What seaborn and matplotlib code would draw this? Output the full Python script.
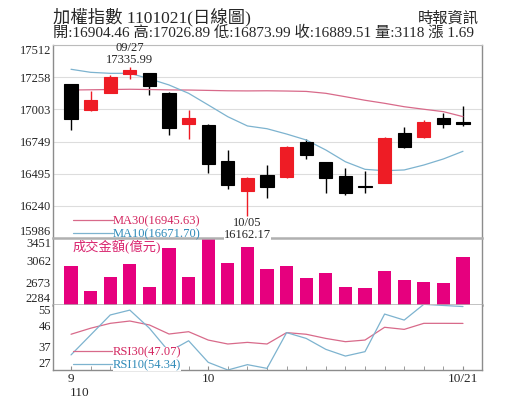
import numpy as np
import matplotlib
matplotlib.use("Agg")
import matplotlib.pyplot as plt
import matplotlib.transforms as mtransforms
import seaborn as sns

# daily candles, 2021/09/22 - 2021/10/21
dates = ['09/22', '09/23', '09/24', '09/27', '09/28', '09/29', '09/30', '10/01',
         '10/04', '10/05', '10/06', '10/07', '10/08', '10/12', '10/13', '10/14',
         '10/15', '10/18', '10/19', '10/20', '10/21']
opens = [17201, 16998, 17135, 17285, 17288, 17130, 16890, 16879, 16597, 16360, 16484,
         16466, 16743, 16585, 16479, 16395, 16423, 16814, 16787, 16932, 16904.46]
highs = [17205, 17148, 17275, 17335.99, 17290, 17140, 16998, 16885, 16682, 16470, 16566,
         16716, 16766, 16590, 16542, 16516, 16785, 16861, 16919, 16972, 17026.89]
lows = [16840, 16990, 17130, 17243, 17117, 16800, 16766, 16497, 16376, 16162.17, 16300,
        16460, 16608, 16344, 16328, 16344, 16420, 16695, 16774, 16858, 16873.99]
closes = [16927, 17077, 17261, 17314, 17185, 16856, 16932, 16571, 16405, 16458, 16389,
          16708, 16640, 16463, 16344, 16387, 16779, 16703, 16901, 16890, 16889.51]
ma30 = [17156, 17158, 17160, 17162, 17160, 17157, 17156, 17153, 17150, 17149, 17150,
        17148, 17145, 17130, 17103, 17075, 17051, 17024, 17004, 16985, 16945.63]
ma10 = [17320, 17296, 17288, 17288, 17245, 17196, 17130, 17038, 16945, 16872, 16850,
        16808, 16761, 16682, 16589, 16529, 16518, 16524, 16563, 16611, 16671.70]
volumes = [2969, 2528, 2777, 2993, 2592, 3272, 2777, 3434, 3010, 3300, 2906,
           2969, 2761, 2836, 2603, 2586, 2871, 2714, 2690, 2672, 3118]
rsi30 = [42.4, 45.0, 47.1, 48.1, 46.4, 42.5, 43.5, 39.9, 38.2, 38.9, 38.2,
         43.1, 42.4, 40.6, 39.2, 39.9, 45.4, 44.5, 47.1, 47.1, 47.07]
rsi10 = [33.5, 42.1, 50.7, 52.8, 45.0, 34.9, 39.6, 30.3, 27.0, 29.3, 27.7,
         43.1, 40.6, 35.9, 33.0, 34.9, 51.1, 48.5, 55.3, 54.8, 54.34]

price_ticks = [15986, 16240, 16495, 16749, 17003, 17258, 17512]
vol_ticks = [2284, 2673, 3062, 3451]
rsi_ticks = [27, 37, 46, 55]
x_tick_pos = [0, 7, 20]
x_tick_labels = ['9', '10', '10/21']

title = '加權指數 1101021(日線圖)'
subtitle = '開:16904.46 高:17026.89 低:16873.99 收:16889.51 量:3118 漲 1.69'
source = '時報資訊'
vol_label = '成交金額(億元)'

sns.set_style("white")
FAM = ['Liberation Serif', 'Noto Sans CJK TC']
plt.rcParams['font.family'] = FAM

UP, DOWN = '#EE1C25', '#000000'
PINK_BAR = '#E6007E'
C30_LINE, C30_TXT = '#D86A8A', '#D3245E'
C10_LINE, C10_TXT = '#7DB3CF', '#2E8AB8'

idx = np.arange(len(dates))
fig = plt.figure(figsize=(5.15, 4.13), dpi=100)
L, W = 53 / 515, 429 / 515


def fy(px):
    return 1 - px / 413


ax = fig.add_axes([L, fy(238), W, (238 - 45) / 413])
axv = fig.add_axes([L, fy(305), W, (305 - 238) / 413], sharex=ax)
axr = fig.add_axes([L, fy(370), W, (370 - 305) / 413], sharex=ax)
ax.set_zorder(3)

# candles
o, h, l, c = map(np.array, (opens, highs, lows, closes))
cols = [UP if cc > oo else DOWN for oo, cc in zip(o, c)]
ax.vlines(idx, l, h, colors=cols, lw=1, zorder=2)
ax.bar(idx, np.abs(c - o), bottom=np.minimum(o, c), width=0.68, color=cols,
       edgecolor=cols, linewidth=0.8, zorder=3)

sns.lineplot(x=idx, y=ma30, ax=ax, color=C30_LINE, lw=0.9, label=f'MA30({ma30[-1]:.2f})')
sns.lineplot(x=idx, y=ma10, ax=ax, color=C10_LINE, lw=0.9, label=f'MA10({ma10[-1]:.2f})')
leg = ax.legend(loc='lower left', bbox_to_anchor=(0.046, -0.012), frameon=False,
                handlelength=3.2, handletextpad=0, borderpad=0, borderaxespad=0,
                labelspacing=0.1, prop={'family': FAM, 'size': 9})
for t, col in zip(leg.get_texts(), [C30_TXT, C10_TXT]):
    t.set_color(col)

ax.annotate(f'{dates[3]}\n{highs[3]:.2f}', xy=(3, highs[3]), xytext=(0, 1),
            textcoords='offset points', ha='center', va='bottom', fontsize=9,
            linespacing=0.95)
ax.annotate(f'{dates[9]}\n{lows[9]:.2f}', xy=(9, lows[9]), xytext=(0, -1),
            textcoords='offset points', ha='center', va='top', fontsize=9,
            linespacing=0.95, zorder=6,
            bbox=dict(facecolor='white', edgecolor='none', pad=0))

ax.set_ylim(price_ticks[0], price_ticks[-1])
ax.set_yticks(price_ticks, [str(v) for v in price_ticks])
ax.grid(axis='y', color='#dddddd', lw=0.8)
ax.grid(axis='x', visible=False)

# volume
sns.barplot(x=idx, y=volumes, ax=axv, color=PINK_BAR, width=0.68, native_scale=True,
            saturation=1, linewidth=0)
axv.set_ylim(vol_ticks[0], vol_ticks[-1])
axv.set_yticks(vol_ticks, [str(v) for v in vol_ticks])
axv.text(0.046, 0.86, vol_label, transform=axv.transAxes, color='#D9246E',
         fontsize=9.5, va='center', ha='left')

# RSI
sns.lineplot(x=idx, y=rsi30, ax=axr, color=C30_LINE, lw=0.9, label=f'RSI30({rsi30[-1]:.2f})')
sns.lineplot(x=idx, y=rsi10, ax=axr, color=C10_LINE, lw=0.9, label=f'RSI10({rsi10[-1]:.2f})')
leg2 = axr.legend(loc='lower left', bbox_to_anchor=(0.046, -0.02), frameon=False,
                  handlelength=3.2, handletextpad=0, borderpad=0, borderaxespad=0,
                  labelspacing=0.05, prop={'family': FAM, 'size': 9})
for t, col in zip(leg2.get_texts(), [C30_TXT, C10_TXT]):
    t.set_color(col)
    t.set_bbox(dict(facecolor='white', edgecolor='none', pad=0))
axr.set_ylim(rsi_ticks[0], rsi_ticks[-1])
axr.set_yticks(rsi_ticks, [str(v) for v in rsi_ticks])

# axes styling
for a in (ax, axv, axr):
    a.set_xlabel('')
    a.set_ylabel('')
    a.tick_params(axis='y', length=0, labelsize=9, pad=1.5)
    for s in ('left', 'right'):
        a.spines[s].set_color('#8c8c8c')
        a.spines[s].set_linewidth(1)
    labs = a.get_yticklabels()
    labs[0].set_va('bottom')
    labs[-1].set_va('top')

ax.spines['top'].set_color('#bbbbbb')
ax.spines['top'].set_linewidth(0.8)
ax.spines['bottom'].set_color('#b0b0b0')
ax.spines['bottom'].set_linewidth(1.8)
axv.spines['top'].set_visible(False)
axv.spines['bottom'].set_color('#b0b0b0')
axv.spines['bottom'].set_linewidth(1.8)
axr.spines['top'].set_visible(False)
axr.spines['bottom'].set_color('#8c8c8c')
axr.spines['bottom'].set_linewidth(1)

ax.tick_params(axis='x', bottom=False, labelbottom=False)
axv.tick_params(axis='x', bottom=False, labelbottom=False)
axr.set_xticks(x_tick_pos, x_tick_labels)
axr.set_xticks(idx, minor=True)
axr.tick_params(axis='x', which='both', direction='in', length=3, color='#8c8c8c',
                labelsize=9.5, pad=2, bottom=True)
axr.text(-0.06, -0.36, '110', transform=mtransforms.blended_transform_factory(axr.transData, axr.transAxes),
         ha='left', va='center', fontsize=9.5)
ax.set_xlim(-0.92, 20.97)

# header
fig.text(L, fy(17), title, fontsize=12.5, va='center', ha='left')
fig.text(L, fy(33), subtitle, fontsize=11, va='center', ha='left')
fig.text(479 / 515, fy(19), source, fontsize=11, va='center', ha='right')

fig.savefig('out.png', dpi=100)
